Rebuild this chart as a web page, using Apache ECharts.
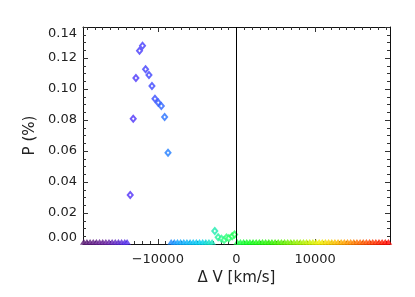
<!DOCTYPE html>
<html>
<head>
<meta charset="utf-8">
<script src="https://cdn.jsdelivr.net/npm/echarts@6/dist/echarts.min.js"></script>
<style>html,body{margin:0;padding:0;background:#fff}#c{width:415px;height:297px}</style>
</head>
<body>
<div id="c"></div>
<script>
// Elevated points (velocity km/s, P %)
const velHigh = [-13500, -13120, -12780, -12320, -11940, -11550, -11120, -10740, -10360, -9940, -9550, -9130, -8700];
const pHigh   = [0.0316, 0.0808, 0.1071, 0.1247, 0.1279, 0.1127, 0.1090, 0.1019, 0.0937, 0.0912, 0.0890, 0.0819, 0.0589];
// Small bump near zero velocity
const velLow = [-2760, -2330, -1910, -1570, -1270, -980, -550, -250];
const pLow   = [0.0084, 0.0044, 0.0034, 0.0026, 0.0042, 0.0037, 0.0050, 0.0061];
// Points lying on zero
const velZero = [
  -19400, -19000, -18600, -18200, -17800, -17400, -17000, -16600, -16200, -15800, -15400, -15000, -14600, -14200, -13900,
  -8300, -7900, -7500, -7100, -6700, -6300, -5900, -5500, -5100, -4700, -4300, -3900, -3500, -3100,
  100, 500, 900, 1300, 1700, 2100, 2500, 2900, 3300, 3700, 4100, 4500, 4900, 5300, 5700, 6100, 6500, 6900, 7300, 7700,
  8100, 8500, 8900, 9300, 9700, 10100, 10500, 10900, 11300, 11700, 12100, 12500, 12900, 13300, 13700, 14100, 14500,
  14900, 15300, 15700, 16100, 16500, 16900, 17300, 17700, 18100, 18500, 18900, 19300
];
const pZero = velZero.map(() => 0);

const xMajor = [-10000, 0, 10000];
const yMajor = [0, 0.02, 0.04, 0.06, 0.08, 0.10, 0.12, 0.14];
const xMinor = []; for (let v = -19000; v <= 19000; v += 1000) if (v % 10000 !== 0) xMinor.push(v);
const yMinor = []; for (let i = 1; i < 28; i++) if (i % 4 !== 0) yMinor.push(+(i * 0.005).toFixed(3));

const colorStops = ['#581870', '#6a22a0', '#5030f8', '#3a48ff', '#10a0ff', '#00d0f0', '#30ff80',
                    '#10ff20', '#30f000', '#90f000', '#f0f000', '#ffa800', '#ff5000', '#ff0000'];

const FONT = 'DejaVu Sans';
const X_MIN = -19500, X_MAX = 19500, Y_MIN = 0, Y_MAX = 0.14;

function xAx(pos, vals, len, withLine, withLabel) {
  return {
    type: 'value', position: pos, min: X_MIN, max: X_MAX,
    axisLine: { show: withLine, onZero: false, lineStyle: { color: '#111', width: 1 } },
    axisTick: { show: true, inside: true, length: len, customValues: vals, lineStyle: { color: '#333' } },
    axisLabel: withLabel ? {
      show: true, customValues: vals, margin: 9, color: '#222', fontFamily: FONT, fontSize: 13,
      formatter: v => v < 0 ? '\u2212' + Math.abs(v) : String(v)
    } : { show: false },
    splitLine: { show: false }
  };
}
function yAx(pos, vals, len, withLine, withLabel) {
  return {
    type: 'value', position: pos, min: Y_MIN, max: Y_MAX,
    axisLine: { show: withLine, onZero: false, lineStyle: { color: '#111', width: 1 } },
    axisTick: { show: true, inside: true, length: len, customValues: vals, lineStyle: { color: '#333' } },
    axisLabel: withLabel ? {
      show: true, customValues: vals, margin: 6, color: '#222', fontFamily: FONT, fontSize: 13,
      verticalAlignMinLabel: 'bottom', verticalAlignMaxLabel: 'top',
      formatter: v => v.toFixed(2)
    } : { show: false },
    splitLine: { show: false }
  };
}

const chart = echarts.init(document.getElementById('c'), null, { renderer: 'canvas' });
const xa0 = xAx('bottom', xMajor, 5, true, true);
xa0.name = '\u0394 V [km/s]';
xa0.nameLocation = 'middle';
xa0.nameGap = 25;
xa0.nameTextStyle = { color: '#222', fontFamily: FONT, fontSize: 15 };
const ya0 = yAx('left', yMajor, 5, true, true);
ya0.name = 'P (%)';
ya0.nameLocation = 'middle';
ya0.nameGap = 44;
ya0.nameTextStyle = { color: '#222', fontFamily: FONT, fontSize: 15 };

chart.setOption({
  backgroundColor: '#fff',
  animation: false,
  grid: { left: 83, right: 25, top: 27, bottom: 53, containLabel: false },
  xAxis: [xa0, xAx('bottom', xMinor, 3, false, false), xAx('top', xMajor, 5, true, false), xAx('top', xMinor, 3, false, false)],
  yAxis: [ya0, yAx('left', yMinor, 3, false, false), yAx('right', yMajor, 5, true, false), yAx('right', yMinor, 3, false, false)],
  visualMap: {
    show: false, type: 'continuous', dimension: 0, min: X_MIN, max: X_MAX,
    seriesIndex: [0, 1, 2], inRange: { color: colorStops }
  },
  series: [
    {
      type: 'scatter', xAxisIndex: 0, yAxisIndex: 0,
      data: velZero.map((v, i) => [v, pZero[i]]),
      symbol: 'emptyTriangle', symbolSize: [4, 3], symbolOffset: [0, -1.5],
      itemStyle: { borderWidth: 1 }, z: 3
    },
    {
      type: 'scatter', xAxisIndex: 0, yAxisIndex: 0,
      data: velHigh.map((v, i) => [v, pHigh[i]]),
      symbol: 'emptyDiamond', symbolSize: [5, 6],
      itemStyle: { borderWidth: 1.3 }, z: 3,
      markLine: {
        silent: true, symbol: 'none', animation: false,
        label: { show: false },
        lineStyle: { color: '#000', width: 1, type: 'solid' },
        data: [{ xAxis: 0 }]
      }
    },
    {
      type: 'scatter', xAxisIndex: 0, yAxisIndex: 0,
      data: velLow.map((v, i) => [v, pLow[i]]),
      symbol: 'emptyDiamond', symbolSize: [5, 6],
      itemStyle: { borderWidth: 1.3 }, z: 3
    }
  ]
});
</script>
</body>
</html>
